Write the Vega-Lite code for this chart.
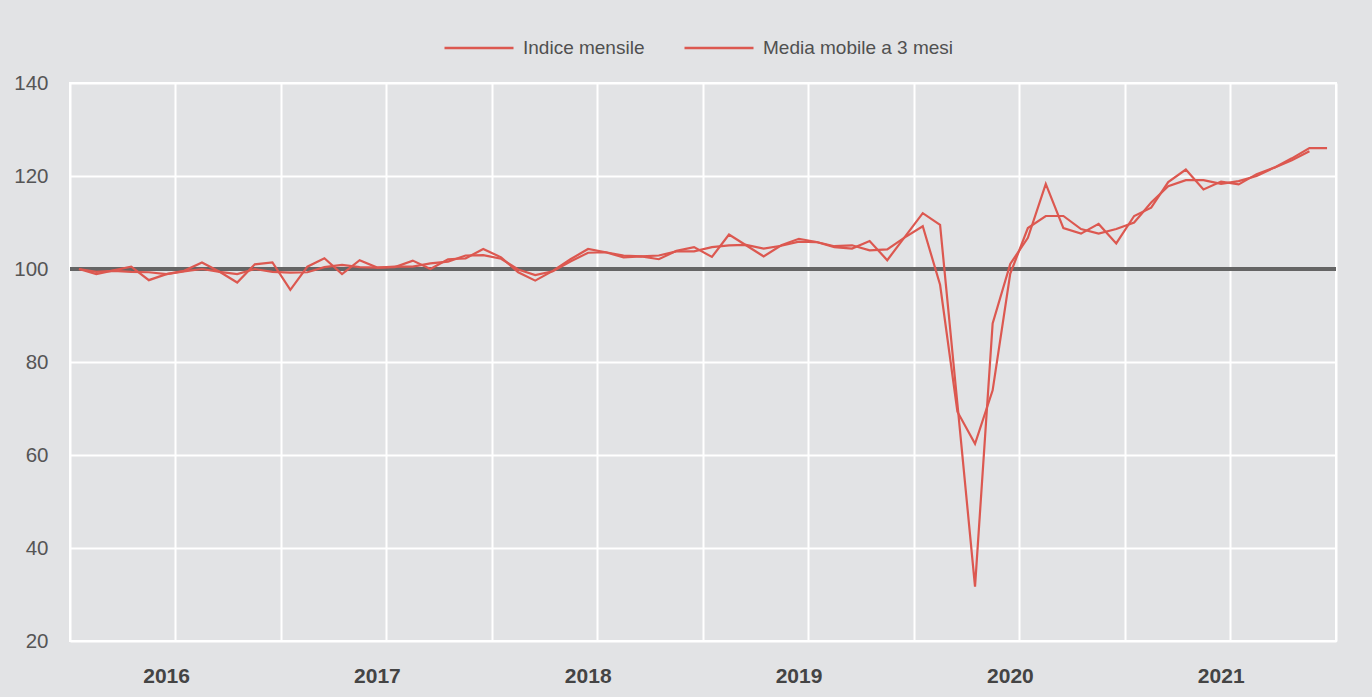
{
  "$schema": "https://vega.github.io/schema/vega-lite/v6.json",
  "width": 1266,
  "height": 558,
  "autosize": "none",
  "padding": {"left": 70, "top": 83, "right": 36, "bottom": 56},
  "background": "#e2e3e5",
  "config": {
    "view": {"stroke": "#ffffff", "strokeWidth": 2},
    "font": "Liberation Sans"
  },
  "data": {"values": [
    {"mese": "2016-01", "indice": 100.0, "media": 100.0},
    {"mese": "2016-02", "indice": 98.9, "media": 99.4},
    {"mese": "2016-03", "indice": 99.7, "media": 99.6},
    {"mese": "2016-04", "indice": 100.5, "media": 99.4},
    {"mese": "2016-05", "indice": 97.6, "media": 99.3},
    {"mese": "2016-06", "indice": 98.9, "media": 98.9},
    {"mese": "2016-07", "indice": 99.6, "media": 99.5},
    {"mese": "2016-08", "indice": 101.4, "media": 100.0},
    {"mese": "2016-09", "indice": 99.4, "media": 99.4},
    {"mese": "2016-10", "indice": 97.1, "media": 98.9},
    {"mese": "2016-11", "indice": 101.0, "media": 100.0},
    {"mese": "2016-12", "indice": 101.4, "media": 99.4},
    {"mese": "2017-01", "indice": 95.5, "media": 99.2},
    {"mese": "2017-02", "indice": 100.5, "media": 99.3},
    {"mese": "2017-03", "indice": 102.3, "media": 100.4},
    {"mese": "2017-04", "indice": 98.9, "media": 100.9},
    {"mese": "2017-05", "indice": 101.9, "media": 100.4},
    {"mese": "2017-06", "indice": 100.3, "media": 100.3},
    {"mese": "2017-07", "indice": 100.4, "media": 100.5},
    {"mese": "2017-08", "indice": 101.8, "media": 100.5},
    {"mese": "2017-09", "indice": 100.0, "media": 101.2},
    {"mese": "2017-10", "indice": 102.1, "media": 101.6},
    {"mese": "2017-11", "indice": 102.3, "media": 102.9},
    {"mese": "2017-12", "indice": 104.3, "media": 103.0},
    {"mese": "2018-01", "indice": 102.5, "media": 102.2},
    {"mese": "2018-02", "indice": 99.3, "media": 99.9},
    {"mese": "2018-03", "indice": 97.5, "media": 98.7},
    {"mese": "2018-04", "indice": 99.6, "media": 99.5},
    {"mese": "2018-05", "indice": 102.1, "media": 101.6},
    {"mese": "2018-06", "indice": 104.3, "media": 103.5},
    {"mese": "2018-07", "indice": 103.6, "media": 103.6},
    {"mese": "2018-08", "indice": 102.5, "media": 102.9},
    {"mese": "2018-09", "indice": 102.7, "media": 102.7},
    {"mese": "2018-10", "indice": 102.1, "media": 102.9},
    {"mese": "2018-11", "indice": 103.9, "media": 103.8},
    {"mese": "2018-12", "indice": 104.7, "media": 103.8},
    {"mese": "2019-01", "indice": 102.6, "media": 104.7},
    {"mese": "2019-02", "indice": 107.4, "media": 105.1},
    {"mese": "2019-03", "indice": 105.1, "media": 105.2},
    {"mese": "2019-04", "indice": 102.7, "media": 104.4},
    {"mese": "2019-05", "indice": 105.1, "media": 105.0},
    {"mese": "2019-06", "indice": 106.5, "media": 105.9},
    {"mese": "2019-07", "indice": 105.8, "media": 105.8},
    {"mese": "2019-08", "indice": 104.7, "media": 104.9},
    {"mese": "2019-09", "indice": 104.4, "media": 105.1},
    {"mese": "2019-10", "indice": 106.0, "media": 104.0},
    {"mese": "2019-11", "indice": 101.9, "media": 104.2},
    {"mese": "2019-12", "indice": 106.9, "media": 106.8},
    {"mese": "2020-01", "indice": 112.0, "media": 109.2},
    {"mese": "2020-02", "indice": 109.5, "media": 96.6},
    {"mese": "2020-03", "indice": 71.0, "media": 69.3},
    {"mese": "2020-04", "indice": 31.7, "media": 62.4},
    {"mese": "2020-05", "indice": 88.3, "media": 73.9},
    {"mese": "2020-06", "indice": 101.1, "media": 99.0},
    {"mese": "2020-07", "indice": 106.7, "media": 108.8},
    {"mese": "2020-08", "indice": 118.3, "media": 111.4},
    {"mese": "2020-09", "indice": 108.8, "media": 111.4},
    {"mese": "2020-10", "indice": 107.6, "media": 108.6},
    {"mese": "2020-11", "indice": 109.7, "media": 107.6},
    {"mese": "2020-12", "indice": 105.5, "media": 108.6},
    {"mese": "2021-01", "indice": 111.4, "media": 110.0},
    {"mese": "2021-02", "indice": 113.2, "media": 114.3},
    {"mese": "2021-03", "indice": 118.7, "media": 117.8},
    {"mese": "2021-04", "indice": 121.4, "media": 119.1},
    {"mese": "2021-05", "indice": 117.1, "media": 119.1},
    {"mese": "2021-06", "indice": 118.8, "media": 118.3},
    {"mese": "2021-07", "indice": 118.2, "media": 118.9},
    {"mese": "2021-08", "indice": 120.4, "media": 120.0},
    {"mese": "2021-09", "indice": 121.8, "media": 121.8},
    {"mese": "2021-10", "indice": 123.8, "media": 123.4},
    {"mese": "2021-11", "indice": 126.0, "media": 125.3},
    {"mese": "2021-12", "indice": 126.0, "media": null}
  ]},
  "layer": [
    {
      "mark": {"type": "rule", "color": "#656565", "strokeWidth": 2.4},
      "encoding": {"y": {"datum": 100, "type": "quantitative"}}
    },
    {
      "transform": [{"fold": ["indice", "media"], "as": ["serie", "valore"]}],
      "mark": {"type": "line", "strokeWidth": 2.2},
      "encoding": {
        "x": {
          "field": "mese",
          "type": "temporal",
          "timeUnit": "utcyearmonth",
          "bandPosition": 0.5,
          "scale": {
            "type": "utc",
            "nice": false,
            "domain": [
              {"year": 2016, "month": 1, "date": 1, "utc": true},
              {"year": 2022, "month": 1, "date": 1, "utc": true}
            ]
          },
          "axis": {
            "title": null,
            "values": [
              {"year": 2016, "month": 1, "date": 1, "utc": true},
              {"year": 2016, "month": 7, "date": 1, "utc": true},
              {"year": 2017, "month": 1, "date": 1, "utc": true},
              {"year": 2017, "month": 7, "date": 1, "utc": true},
              {"year": 2018, "month": 1, "date": 1, "utc": true},
              {"year": 2018, "month": 7, "date": 1, "utc": true},
              {"year": 2019, "month": 1, "date": 1, "utc": true},
              {"year": 2019, "month": 7, "date": 1, "utc": true},
              {"year": 2020, "month": 1, "date": 1, "utc": true},
              {"year": 2020, "month": 7, "date": 1, "utc": true},
              {"year": 2021, "month": 1, "date": 1, "utc": true},
              {"year": 2021, "month": 7, "date": 1, "utc": true},
              {"year": 2022, "month": 1, "date": 1, "utc": true}
            ],
            "labelExpr": "utcFormat(datum.value, '%m') == '07' ? utcFormat(datum.value, '%Y') : ''",
            "grid": true,
            "gridColor": "#ffffff",
            "gridWidth": 2,
            "gridOpacity": 1,
            "domain": false,
            "ticks": false,
            "labelFont": "Liberation Sans",
            "labelFontSize": 21,
            "labelFontWeight": "bold",
            "labelColor": "#444444",
            "labelPadding": 24,
            "labelOffset": -9,
            "labelOverlap": false,
            "labelFlush": false,
            "labelBound": false
          }
        },
        "y": {
          "field": "valore",
          "type": "quantitative",
          "scale": {"domain": [20, 140], "nice": false, "zero": false},
          "axis": {
            "title": null,
            "values": [20, 40, 60, 80, 100, 120, 140],
            "grid": true,
            "gridColor": "#ffffff",
            "gridWidth": 2,
            "gridOpacity": 1,
            "domain": false,
            "ticks": false,
            "labelFont": "Liberation Sans",
            "labelFontSize": 20.5,
            "labelColor": "#555555",
            "labelPadding": 22
          }
        },
        "color": {
          "field": "serie",
          "type": "nominal",
          "scale": {"domain": ["indice", "media"], "range": ["#dc5850", "#dc5850"]},
          "legend": {
            "orient": "none",
            "legendX": 373,
            "legendY": -71,
            "direction": "horizontal",
            "title": null,
            "padding": 0,
            "symbolType": "stroke",
            "symbolSize": 4761,
            "symbolStrokeWidth": 2.5,
            "labelFont": "Liberation Sans",
            "labelFontSize": 19,
            "labelColor": "#505050",
            "labelOffset": 8,
            "labelLimit": 500,
            "columnPadding": 34,
            "labelExpr": "datum.value == 'indice' ? 'Indice mensile' : 'Media mobile a 3 mesi'"
          }
        }
      }
    }
  ]
}
